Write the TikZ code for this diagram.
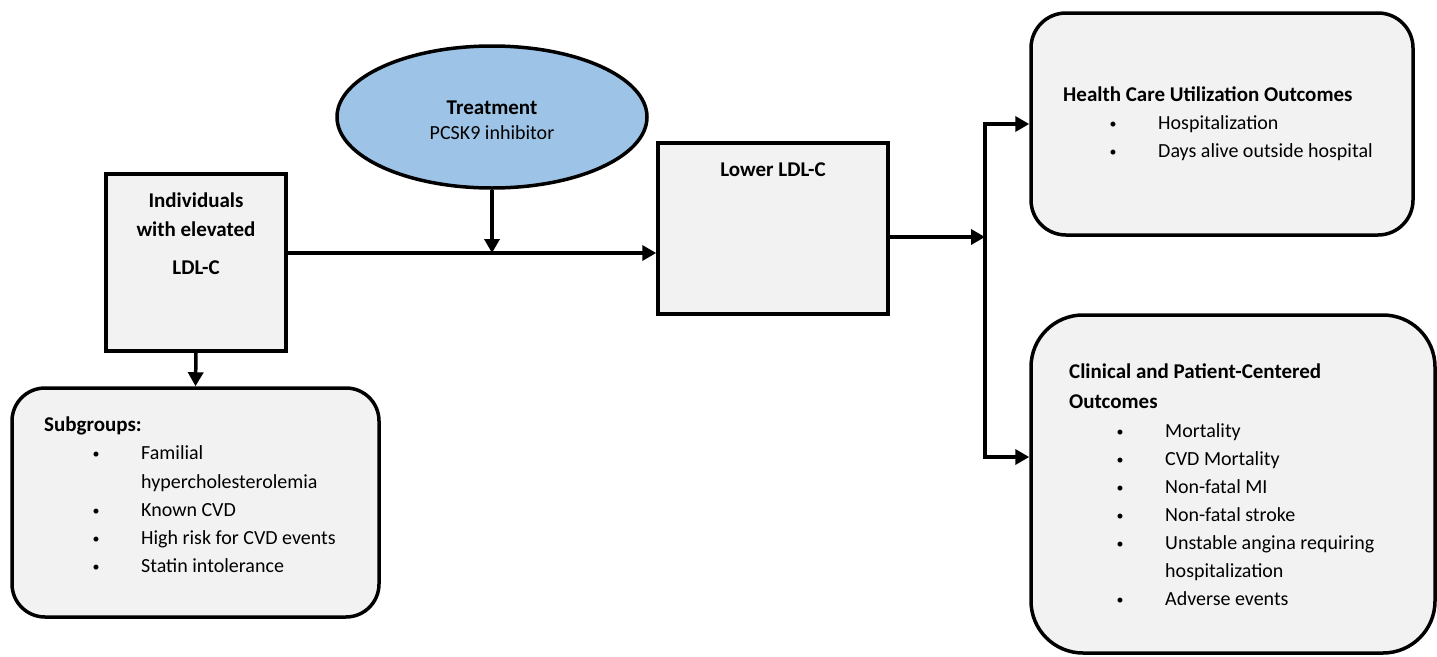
\documentclass[tikz,border=0pt]{standalone}
\usepackage{fontspec}
\setmainfont{Carlito}
\usepackage{xcolor}
\usetikzlibrary{arrows.meta,positioning,shapes.geometric}

\definecolor{boxgray}{HTML}{F2F2F2}
\definecolor{treatblue}{HTML}{9DC3E6}

\tikzset{
  box/.style={draw, line width=3.5pt, fill=boxgray, inner sep=0pt},
  roundbox/.style={box, rounded corners=#1},
  hd/.style={font=\fontsize{21}{25}\selectfont\bfseries, inner sep=0pt},
  txt/.style={font=\fontsize{20}{24}\selectfont, inner sep=0pt},
  bul/.style={font=\fontsize{14}{16}\selectfont, inner sep=0pt, yshift=1.5pt},
  arr/.style={-{Triangle[length=14pt,width=15pt]}, line width=3.5pt, line join=miter},
}

\begin{document}
\begin{tikzpicture}[x=1pt, y=-1pt]
  \useasboundingbox (0,0) rectangle (1437,656);

  % shapes
  \node[box, minimum width=180pt, minimum height=177pt] (indiv) at (196,262.5) {};
  \node[roundbox=33pt, minimum width=367pt, minimum height=229pt] (sub) at (195.5,502.5) {};
  \node[ellipse, draw, line width=3.5pt, fill=treatblue, minimum width=310pt,
    minimum height=142pt, inner sep=0pt] (treat) at (492,117) {};
  \node[box, minimum width=230pt, minimum height=171pt] (lower) at (773,228.5) {};
  \node[roundbox=35pt, minimum width=382pt, minimum height=222pt] (health) at (1222,124) {};
  \node[roundbox=52pt, minimum width=404pt, minimum height=338pt] (clin) at (1233,484) {};

  % texts
  \node[hd, anchor=base] (indiv1) at (196,207.5) {Individuals};
  \node[hd, anchor=base] (indiv2) at (196,236.5) {with elevated};
  \node[hd, anchor=base] (indiv3) at (196,274.5) {LDL-C};
  \node[hd, anchor=base] (treat1) at (492,114.5) {Treatment};
  \node[txt, anchor=base] (treat2) at (492,139.5) {PCSK9 inhibitor};
  \node[hd, anchor=base] (lower1) at (773,176.5) {Lower LDL-C};

  \node[hd, anchor=base west] (subhd) at (44,431.5) {Subgroups:};
  \foreach \yy in {459.5,516.5,544.5,572.5}
    \node[bul, anchor=base] at (96,\yy) {•};
  \foreach \yy/\t [count=\i] in {459.5/Familial, 488.5/hypercholesterolemia,
      516.5/Known CVD, 544.5/High risk for CVD events, 572.5/Statin intolerance}
    \node[txt, anchor=base west] (sub\i) at (141,\yy) {\t};

  \node[hd, anchor=base west] (healthhd) at (1063,101.5) {Health Care Utilization Outcomes};
  \foreach \yy/\t [count=\i] in {129.5/Hospitalization, 157.5/Days alive outside hospital} {
    \node[bul, anchor=base] (hb\i) at (1113,\yy) {•};
    \node[txt, anchor=base west] (health\i) at (1158,\yy) {\t};
  }

  \node[hd, anchor=base west] (clinhd1) at (1069,378.5) {Clinical and Patient-Centered};
  \node[hd, anchor=base west] (clinhd2) at (1069,408.5) {Outcomes};
  \foreach \yy in {437.5,465.5,493.5,521.5,549.5,605.5}
    \node[bul, anchor=base] at (1120,\yy) {•};
  \foreach \yy/\t [count=\i] in {437.5/Mortality, 465.5/CVD Mortality, 493.5/Non-fatal MI,
      521.5/Non-fatal stroke, 549.5/Unstable angina requiring, 577.5/hospitalization,
      605.5/Adverse events}
    \node[txt, anchor=base west] (clin\i) at (1165,\yy) {\t};

  % connectors
  \coordinate (join) at (492,253);
  \coordinate (split) at (985,237);
  \draw[arr] (indiv.east |- join) -- (lower.west |- join);
  \draw[arr] (treat.south) -- (join);
  \draw[arr] (indiv.south) -- (sub.north);
  \draw[arr] (lower.east |- split) -- (split);
  \draw[arr] (split) |- (health.west);
  \draw[arr] (split) |- (clin.west |- 0,457);
\end{tikzpicture}
\end{document}
